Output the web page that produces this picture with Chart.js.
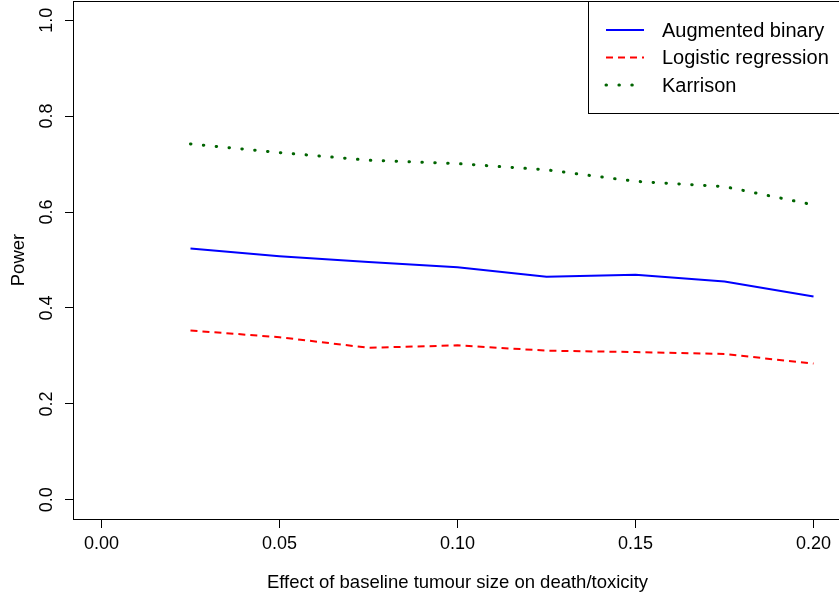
<!DOCTYPE html>
<html>
<head>
<meta charset="utf-8">
<script src="https://cdn.jsdelivr.net/npm/chart.js@4/dist/chart.umd.min.js"></script>
<style>
    html, body { margin: 0; padding: 0; background: #fff; overflow: hidden; }
    #wrap { width: 839px; height: 599px; overflow: hidden; }
</style>
</head>
<body>
<div id="wrap"><canvas id="powerChart" width="845" height="599"></canvas></div>
<script>
// ========================================
// Data
// ========================================
const effectSizes = [0.025, 0.05, 0.075, 0.1, 0.125, 0.15, 0.175, 0.2];
const augmentedBinary = [0.524, 0.508, 0.496, 0.485, 0.465, 0.469, 0.455, 0.424];
const logisticRegression = [0.353, 0.339, 0.317, 0.322, 0.311, 0.308, 0.304, 0.284];
const karrison = [0.742, 0.724, 0.708, 0.701, 0.688, 0.664, 0.653, 0.615];

const seriesNames = ['Augmented binary', 'Logistic regression', 'Karrison'];
const xTickStep = 0.05;
const yTickStep = 0.2;

const FONT = '"Liberation Sans", Arial, Helvetica, sans-serif';

function toPoints(values) {
    return effectSizes.map((x, i) => ({ x: x, y: values[i] }));
}

// ========================================
// R-style box, rotated y labels and legend
// ========================================
const rStylePlugin = {
    id: 'rStyle',
    afterDraw(chart) {
        const { ctx, chartArea } = chart;
        const xs = chart.scales.x;
        const ys = chart.scales.y;

        ctx.save();
        ctx.strokeStyle = '#000';
        ctx.lineWidth = 1;
        ctx.strokeRect(Math.round(chartArea.left) + 0.5, Math.round(chartArea.top) + 0.5,
            Math.round(chartArea.right - chartArea.left), Math.round(chartArea.bottom - chartArea.top));

        // tick labels
        ctx.fillStyle = '#000';
        ctx.font = '18px ' + FONT;
        ctx.textAlign = 'center';
        ctx.textBaseline = 'middle';
        xs.ticks.forEach(t => {
            ctx.fillText(t.value.toFixed(2), xs.getPixelForValue(t.value), chartArea.bottom + 25);
        });
        ys.ticks.forEach(t => {
            ctx.save();
            ctx.translate(chartArea.left - 25.5, ys.getPixelForValue(t.value));
            ctx.rotate(-Math.PI / 2);
            ctx.fillText(t.value.toFixed(1), 0, 0);
            ctx.restore();
        });

        // legend
        const lx = 588, ly = 1, lw = 260, lh = 112;
        ctx.fillStyle = '#fff';
        ctx.fillRect(lx + 0.5, ly + 0.5, lw, lh);
        ctx.strokeStyle = '#000';
        ctx.strokeRect(lx + 0.5, ly + 0.5, lw, lh);
        const rows = [30, 57.5, 85];
        chart.data.datasets.forEach((ds, i) => {
            ctx.save();
            ctx.strokeStyle = ds.borderColor;
            ctx.lineWidth = ds.borderWidth;
            ctx.lineCap = ds.borderCapStyle || 'butt';
            ctx.setLineDash(ds.borderDash || []);
            ctx.beginPath();
            ctx.moveTo(606, rows[i]);
            ctx.lineTo(644, rows[i]);
            ctx.stroke();
            ctx.restore();
            ctx.fillStyle = '#000';
            ctx.font = '20px ' + FONT;
            ctx.textAlign = 'left';
            ctx.textBaseline = 'middle';
            ctx.fillText(ds.label, 662, rows[i] + 1);
        });
        ctx.restore();
    }
};

const chart = new Chart(document.getElementById('powerChart'), {
    type: 'line',
    data: {
        datasets: [
            {
                label: seriesNames[0],
                data: toPoints(augmentedBinary),
                borderColor: '#0000ff',
                borderWidth: 2,
                pointRadius: 0,
                tension: 0
            },
            {
                label: seriesNames[1],
                data: toPoints(logisticRegression),
                borderColor: '#ff0000',
                borderWidth: 2,
                borderDash: [7, 5],
                pointRadius: 0,
                tension: 0
            },
            {
                label: seriesNames[2],
                data: toPoints(karrison),
                borderColor: '#006400',
                borderWidth: 3,
                borderDash: [0.5, 12.4],
                borderCapStyle: 'round',
                pointRadius: 0,
                tension: 0
            }
        ]
    },
    options: {
        responsive: false,
        animation: false,
        devicePixelRatio: 1,
        layout: { padding: { left: 0, top: 1, right: 3, bottom: 0 } },
        plugins: {
            legend: { display: false },
            tooltip: { enabled: false }
        },
        scales: {
            x: {
                type: 'linear',
                min: -0.008,
                max: 0.208,
                afterFit: (scale) => { scale.height = 80; },
                ticks: { display: false, stepSize: xTickStep, includeBounds: false },
                grid: { drawOnChartArea: false, drawTicks: true, tickLength: 9, color: '#000', lineWidth: 1 },
                border: { display: false },
                title: {
                    display: true,
                    text: 'Effect of baseline tumour size on death/toxicity',
                    color: '#000',
                    font: { family: FONT, size: 18.5 },
                    padding: { top: 0, bottom: 5 }
                }
            },
            y: {
                type: 'linear',
                min: -0.04,
                max: 1.04,
                afterFit: (scale) => { scale.width = 73; },
                ticks: { display: false, stepSize: yTickStep, includeBounds: false },
                grid: { drawOnChartArea: false, drawTicks: true, tickLength: 8, color: '#000', lineWidth: 1 },
                border: { display: false },
                title: {
                    display: true,
                    text: 'Power',
                    color: '#000',
                    font: { family: FONT, size: 18.5 },
                    padding: { top: 8, bottom: 0 }
                }
            }
        }
    },
    plugins: [rStylePlugin]
});
</script>
</body>
</html>
